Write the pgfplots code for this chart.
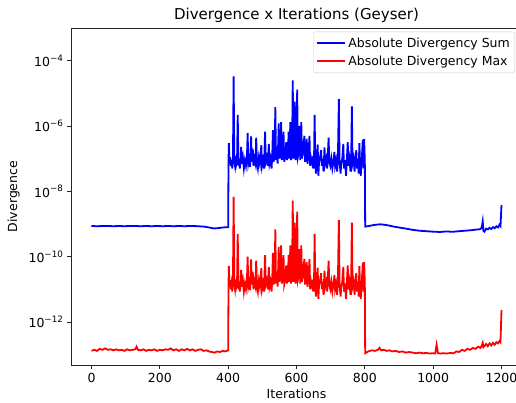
\documentclass[border=0pt]{standalone}
\usepackage{fontspec}
\setmainfont{DejaVu Sans}
\usepackage{pgfplots}
\usepackage{pgfplotstable}
\pgfplotsset{compat=1.18}
\newcommand{\tp}[1]{10\raisebox{0.42em}{\fontsize{8.8}{10}\selectfont −#1}}
\pgfplotstableread{
x s m
0 8.6e-10 1.3e-13
8 8.6e-10 1.4e-13
16 8.5e-10 1.3e-13
24 8.6e-10 1.5e-13
32 8.6e-10 1.4e-13
40 8.7e-10 1.55e-13
48 8.6e-10 1.4e-13
56 8.6e-10 1.45e-13
64 8.5e-10 1.35e-13
72 8.6e-10 1.45e-13
80 8.6e-10 1.35e-13
88 8.6e-10 1.4e-13
96 8.5e-10 1.3e-13
104 8.6e-10 1.45e-13
112 8.6e-10 1.35e-13
120 8.6e-10 1.4e-13
128 8.6e-10 1.45e-13
132 8.6e-10 1.75e-13
136 8.6e-10 1.4e-13
144 8.5e-10 1.35e-13
152 8.6e-10 1.45e-13
160 8.6e-10 1.3e-13
168 8.6e-10 1.4e-13
176 8.5e-10 1.35e-13
184 8.6e-10 1.45e-13
192 8.6e-10 1.3e-13
200 8.6e-10 1.4e-13
208 8.5e-10 1.35e-13
216 8.6e-10 1.45e-13
224 8.6e-10 1.4e-13
232 8.6e-10 1.55e-13
240 8.5e-10 1.35e-13
248 8.6e-10 1.45e-13
256 8.6e-10 1.3e-13
264 8.6e-10 1.45e-13
272 8.5e-10 1.35e-13
280 8.6e-10 1.5e-13
288 8.6e-10 1.35e-13
296 8.6e-10 1.45e-13
304 8.6e-10 1.3e-13
312 8.5e-10 1.4e-13
320 8.4e-10 1.45e-13
328 8.3e-10 1.3e-13
336 8.1e-10 1.35e-13
344 7.8e-10 1.25e-13
352 7.5e-10 1.2e-13
360 7.3e-10 1.15e-13
368 7.4e-10 1.25e-13
376 7.6e-10 1.2e-13
384 7.8e-10 1.3e-13
392 7.9e-10 1.25e-13
400 8.0e-10 1.35e-13
401 8e-8 1.3e-11
402 3e-7 5.1e-11
404 7e-8 1.2e-11
406 1.1e-7 1.9e-11
408 6e-8 1.0e-11
410 9e-8 1.5e-11
412 5e-8 8.5e-12
414 1e-7 1.7e-11
416 3.3e-5 6.8e-9
418 8e-8 1.4e-11
420 6e-8 1.0e-11
422 1.2e-7 2.0e-11
424 7e-8 1.2e-11
426 9e-8 1.5e-11
428 2.2e-6 5.0e-10
430 6e-8 1.0e-11
432 1e-7 1.7e-11
434 5e-8 8.5e-12
436 8e-8 1.4e-11
438 2.3e-7 3.9e-11
440 7e-8 1.2e-11
443 1.1e-7 1.9e-11
446 5e-8 8.5e-12
449 9e-8 1.5e-11
452 6e-8 1.0e-11
455 1.2e-7 2.0e-11
457 6e-7 1.0e-10
459 7e-8 1.2e-11
462 1e-7 1.7e-11
464 5.5e-8 9.4e-12
467 4.8e-7 8.2e-11
469 8e-8 1.4e-11
472 2e-7 3.4e-11
474 6e-8 1.0e-11
477 1e-7 1.7e-11
480 7e-8 1.2e-11
482 4.4e-7 7.5e-11
484 8e-8 1.4e-11
487 5e-8 8.5e-12
490 1.1e-7 1.9e-11
493 7e-8 1.2e-11
495 1.3e-7 2.2e-11
497 2.6e-7 4.4e-11
499 6e-8 1.0e-11
502 9e-8 1.5e-11
505 5e-8 8.5e-12
508 6.7e-7 1.1e-10
510 8e-8 1.4e-11
513 1.1e-7 1.9e-11
516 6e-8 1.0e-11
519 2.8e-7 4.8e-11
521 7e-8 1.2e-11
524 1e-7 1.7e-11
527 5e-8 8.5e-12
529 1.2e-7 2.0e-11
531 7.5e-7 1.3e-10
533 8e-8 1.4e-11
536 1.3e-7 2.2e-11
538 3.8e-6 6.8e-10
540 9e-8 1.5e-11
543 1.5e-7 2.6e-11
545 7e-8 1.2e-11
548 1.2e-6 2.0e-10
550 1e-7 1.7e-11
553 1.6e-7 2.7e-11
555 1.3e-6 2.2e-10
557 9e-8 1.5e-11
560 1.4e-7 2.4e-11
562 6.7e-7 1.1e-10
564 8e-8 1.4e-11
567 1.2e-7 2.0e-11
570 3.2e-7 5.4e-11
572 9e-8 1.5e-11
575 1.5e-7 2.6e-11
577 6.7e-7 1.1e-10
579 1e-7 1.7e-11
582 1.3e-6 2.2e-10
584 9e-8 1.5e-11
587 1.4e-7 2.4e-11
589 2.5e-5 5.2e-9
591 1e-7 1.7e-11
593 1.8e-7 3.1e-11
595 5.6e-6 1.1e-9
597 9e-8 1.5e-11
600 1.5e-7 2.6e-11
602 1.3e-5 2.4e-9
604 1.1e-7 1.9e-11
607 1.6e-7 2.7e-11
609 1e-6 1.7e-10
611 9e-8 1.5e-11
614 1.3e-6 2.2e-10
616 1e-7 1.7e-11
619 1.6e-7 2.7e-11
623 5e-7 8.5e-11
625 8e-8 1.4e-11
628 1.3e-7 2.2e-11
630 4e-7 6.8e-11
632 7e-8 1.2e-11
635 1.2e-7 2.0e-11
638 5e-7 8.5e-11
640 6e-8 1.0e-11
643 1e-7 1.7e-11
646 7e-8 1.2e-11
649 1.2e-7 2.0e-11
651 5e-8 8.5e-12
653 2.2e-6 5.0e-10
655 7e-8 1.2e-11
657 3.5e-8 6.0e-12
659 9e-8 1.5e-11
662 2.7e-7 4.6e-11
664 3e-8 5.1e-12
666 8e-8 1.4e-11
669 1.1e-7 1.9e-11
672 1.8e-7 3.1e-11
674 6e-8 1.0e-11
677 1e-7 1.7e-11
679 4e-8 6.8e-12
682 2.2e-7 3.7e-11
684 7e-8 1.2e-11
687 1e-7 1.7e-11
690 5e-8 8.5e-12
694 4.4e-7 7.5e-11
696 8e-8 1.4e-11
699 6e-8 1.0e-11
702 1e-7 1.7e-11
705 5e-8 8.5e-12
708 8e-8 1.4e-11
711 1.6e-7 2.7e-11
713 6e-8 1.0e-11
716 9e-8 1.5e-11
719 4e-8 6.8e-12
721 8e-8 1.4e-11
724 6.6e-6 1.3e-9
726 9e-8 1.5e-11
729 3.5e-8 6.0e-12
731 7e-8 1.2e-11
734 1e-7 1.7e-11
737 2.8e-7 4.8e-11
739 5e-8 8.5e-12
742 9e-8 1.5e-11
745 3e-8 5.1e-12
747 8e-8 1.4e-11
750 3.2e-7 5.4e-11
752 6e-8 1.0e-11
755 1e-7 1.7e-11
758 4e-8 6.8e-12
760 8e-8 1.4e-11
762 4e-6 1.1e-9
764 7e-8 1.2e-11
767 1e-7 1.7e-11
770 4e-8 6.8e-12
772 9e-8 1.5e-11
775 1.8e-7 3.1e-11
777 5e-8 8.5e-12
780 1e-7 1.7e-11
782 3.5e-8 6.0e-12
784 3e-7 5.1e-11
786 7e-8 1.2e-11
788 3e-8 5.1e-12
791 9e-8 1.5e-11
794 3.8e-7 6.5e-11
796 5e-8 8.5e-12
798 4e-7 6.8e-11
800 8e-8 1.4e-11
801 8.3e-10 1.1e-13
810 8.6e-10 1.25e-13
820 9.0e-10 1.35e-13
830 9.4e-10 1.3e-13
838 9.6e-10 1.4e-13
843 9.7e-10 1.6e-13
848 9.7e-10 1.35e-13
856 9.5e-10 1.4e-13
864 9.2e-10 1.3e-13
872 8.9e-10 1.35e-13
880 8.5e-10 1.25e-13
890 8.1e-10 1.3e-13
900 7.8e-10 1.2e-13
910 7.5e-10 1.25e-13
920 7.2e-10 1.15e-13
930 6.9e-10 1.2e-13
940 6.6e-10 1.15e-13
950 6.4e-10 1.1e-13
960 6.2e-10 1.15e-13
970 6.1e-10 1.1e-13
980 6.0e-10 1.12e-13
990 5.9e-10 1.08e-13
1000 5.8e-10 1.1e-13
1006 5.8e-10 1.08e-13
1010 5.8e-10 2.0e-13
1014 5.7e-10 1.1e-13
1022 5.7e-10 1.08e-13
1030 5.8e-10 1.1e-13
1040 5.9e-10 1.08e-13
1050 5.8e-10 1.12e-13
1060 5.8e-10 1.1e-13
1068 5.9e-10 1.25e-13
1076 6.0e-10 1.2e-13
1084 6.1e-10 1.4e-13
1092 6.2e-10 1.3e-13
1100 6.3e-10 1.5e-13
1108 6.4e-10 1.4e-13
1116 6.5e-10 1.6e-13
1124 6.7e-10 1.5e-13
1132 6.8e-10 1.75e-13
1138 7.0e-10 1.6e-13
1142 7.6e-10 1.85e-13
1145 1.2e-9 2.3e-13
1147 6.2e-10 1.7e-13
1150 5.8e-10 1.85e-13
1155 7.2e-10 2.1e-13
1160 6.8e-10 1.8e-13
1165 7.6e-10 2.2e-13
1170 7.0e-10 1.9e-13
1175 8.0e-10 2.3e-13
1180 7.4e-10 2.0e-13
1185 8.5e-10 2.4e-13
1190 7.8e-10 2.2e-13
1194 9.5e-10 2.6e-13
1197 8.6e-10 2.4e-13
1200 3.8e-9 2.3e-12
}\datatable
\begin{document}
\begin{tikzpicture}
\begin{axis}[
 name=ax,
 scale only axis, width=451pt, height=337pt,
 xmin=-60, xmax=1260,
 ymode=log, ymin=4.8e-14, ymax=1e-3,
 xtick={0,200,400,600,800,1000,1200},
 ytick={1e-12,1e-10,1e-8,1e-6,1e-4},
 yticklabels={\tp{12},\tp{10},\tp{8},\tp{6},\tp{4}},
 yminorticks=false,
 tick pos=left, tick align=outside, major tick length=4.4pt,
 tick style={black!85, line width=0.8pt},
 axis line style={black!85, line width=0.8pt},
 ticklabel style={font=\fontsize{12.5}{14}\selectfont},
 /pgf/number format/assume math mode=true,
 /pgf/number format/1000 sep={},
 title={Divergence x Iterations (Geyser)},
 title style={font=\fontsize{15}{18}\selectfont, yshift=-4pt},
 xlabel={Iterations}, ylabel={Divergence},
 label style={font=\fontsize{12.5}{15}\selectfont},
 ylabel style={yshift=2pt},
 legend style={at={(0.9845,0.989)}, anchor=north east, draw=black!20, rounded corners=2pt, fill=white,
   font=\fontsize{12.5}{15}\selectfont, inner xsep=3pt, inner ysep=4pt, row sep=3pt},
 legend cell align=left,
 legend image code/.code={\draw[#1] (0pt,0.3pt) -- (28pt,0.3pt);},
]
\addplot[color=blue, line width=1.8pt] table[x=x, y=s] {\datatable};
\addlegendentry{Absolute Divergency Sum}
\addplot[color=red, line width=1.8pt] table[x=x, y=m] {\datatable};
\addlegendentry{Absolute Divergency Max}
\end{axis}
\pgfresetboundingbox
\path ([shift={(-71pt,-38pt)}]ax.south west) rectangle ++(516pt,403pt);
\end{tikzpicture}
\end{document}
